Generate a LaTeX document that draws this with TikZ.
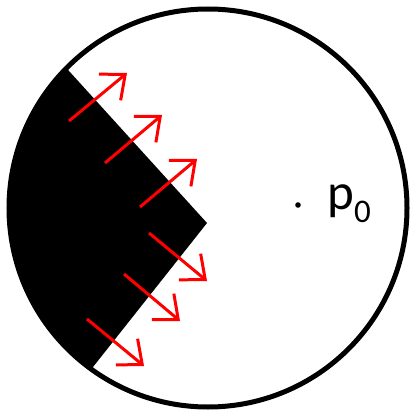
\documentclass[tikz,border=0pt]{standalone}
\usepackage{fontspec}
\setmainfont{Carlito}
\usetikzlibrary{arrows.meta}
\begin{document}
\begin{tikzpicture}[x=1pt,y=-1pt,
  ray/.style={draw=red,line width=3pt,-{Straight Barb[length=20pt,width=34pt,line width=3pt]}},
  rim/.style={draw=black,line width=5pt}]
\useasboundingbox (0,0) rectangle (411,414);
\coordinate (c) at (208,208);
% black region
\begin{scope}
  \clip (c) circle[radius=199];
  \fill[black] (-69,-81) -- (207,223) -- (-21,511) -- (-100,511) -- (-100,-81) -- cycle;
\end{scope}
\draw[rim] (c) circle[radius=199];
% arrows
\coordinate (a1) at (69,121);  \coordinate (b1) at (127,73);
\coordinate (a2) at (105,163); \coordinate (b2) at (162,115);
\coordinate (a3) at (140,207); \coordinate (b3) at (197,159);
\coordinate (a4) at (149,233); \coordinate (b4) at (207,281);
\coordinate (a5) at (124,274); \coordinate (b5) at (180,321);
\coordinate (a6) at (87,319);  \coordinate (b6) at (144,366);
\foreach \i in {1,...,6} \draw[ray] (a\i) -- (b\i);
% point p0
\fill[black] (298,205) circle[radius=2.8];
\node[anchor=base west,inner sep=0pt] (p0) at (327,209)
  {\fontsize{51}{53}\selectfont p\raisebox{-13pt}{\fontsize{33}{35}\selectfont 0}};
\end{tikzpicture}
\end{document}
